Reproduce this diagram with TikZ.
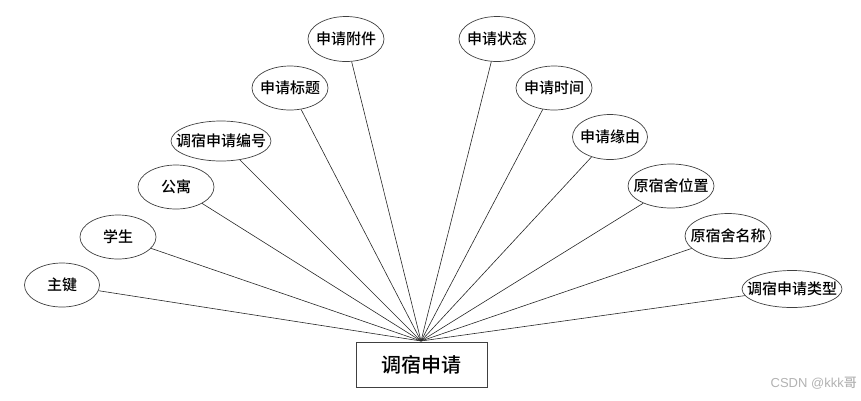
\documentclass[tikz,border=0pt]{standalone}
\usepackage{fontspec}
\setmainfont{Noto Sans CJK SC}[UprightFont={* Medium}]
\newfontfamily\wmfont{Liberation Sans}
\usetikzlibrary{shapes.geometric}
\newcommand{\zw}[1]{\makebox[0pt]{#1}}
\begin{document}
\begin{tikzpicture}[x=1pt,y=-1pt,
  attr/.style={ellipse,draw=black!75,line width=0.7pt,inner sep=0pt,minimum height=44pt,font=\fontsize{15}{16}\selectfont},
  ent/.style={rectangle,draw=black!75,line width=0.8pt,minimum width=131pt,minimum height=45pt,inner sep=0pt,font=\fontsize{20}{22}\selectfont},
  link/.style={draw=black!85,line width=0.6pt}]
\useasboundingbox (0,0) rectangle (861,400);
\node[ent] (main) at (421.5,364.5) {调宿申请};
\coordinate (hub) at (421,341);
\node[attr,minimum width=75pt] (a1) at (62,285) {\zw{主键}};
\node[attr,minimum width=76pt] (a2) at (118,237) {\zw{学生}};
\node[attr,minimum width=76pt] (a3) at (176,187) {\zw{公寓}};
\node[attr,minimum width=100pt,minimum height=40pt] (a4) at (221,141) {\zw{调宿申请编号}};
\node[attr,minimum width=76pt] (a5) at (290,88) {\zw{申请标题}};
\node[attr,minimum width=76pt,minimum height=45pt] (a6) at (346,39) {\zw{申请附件}};
\node[attr,minimum width=76pt,minimum height=45pt] (b1) at (497,39) {\zw{申请状态}};
\node[attr,minimum width=76pt] (b2) at (554,88) {\zw{申请时间}};
\node[attr,minimum width=75pt,minimum height=45pt] (b3) at (610,137) {\zw{申请缘由}};
\node[attr,minimum width=86pt] (b4) at (671,186) {\zw{原宿舍位置}};
\node[attr,minimum width=86pt,minimum height=45pt] (b5) at (728,236) {\zw{原宿舍名称}};
\node[attr,minimum width=100pt,minimum height=37pt] (b6) at (792,289) {\zw{调宿申请类型}};
\foreach \n in {a1,a2,a3,a4,a5,a6,b1,b2,b3,b4,b5,b6}
  \draw[link] (\n) -- (hub);
\node[text=black!30,font=\fontsize{13}{14}\selectfont,anchor=east,inner sep=0pt] (wm) at (857,383) {{\wmfont CSDN @kkk}哥};
\end{tikzpicture}
\end{document}
